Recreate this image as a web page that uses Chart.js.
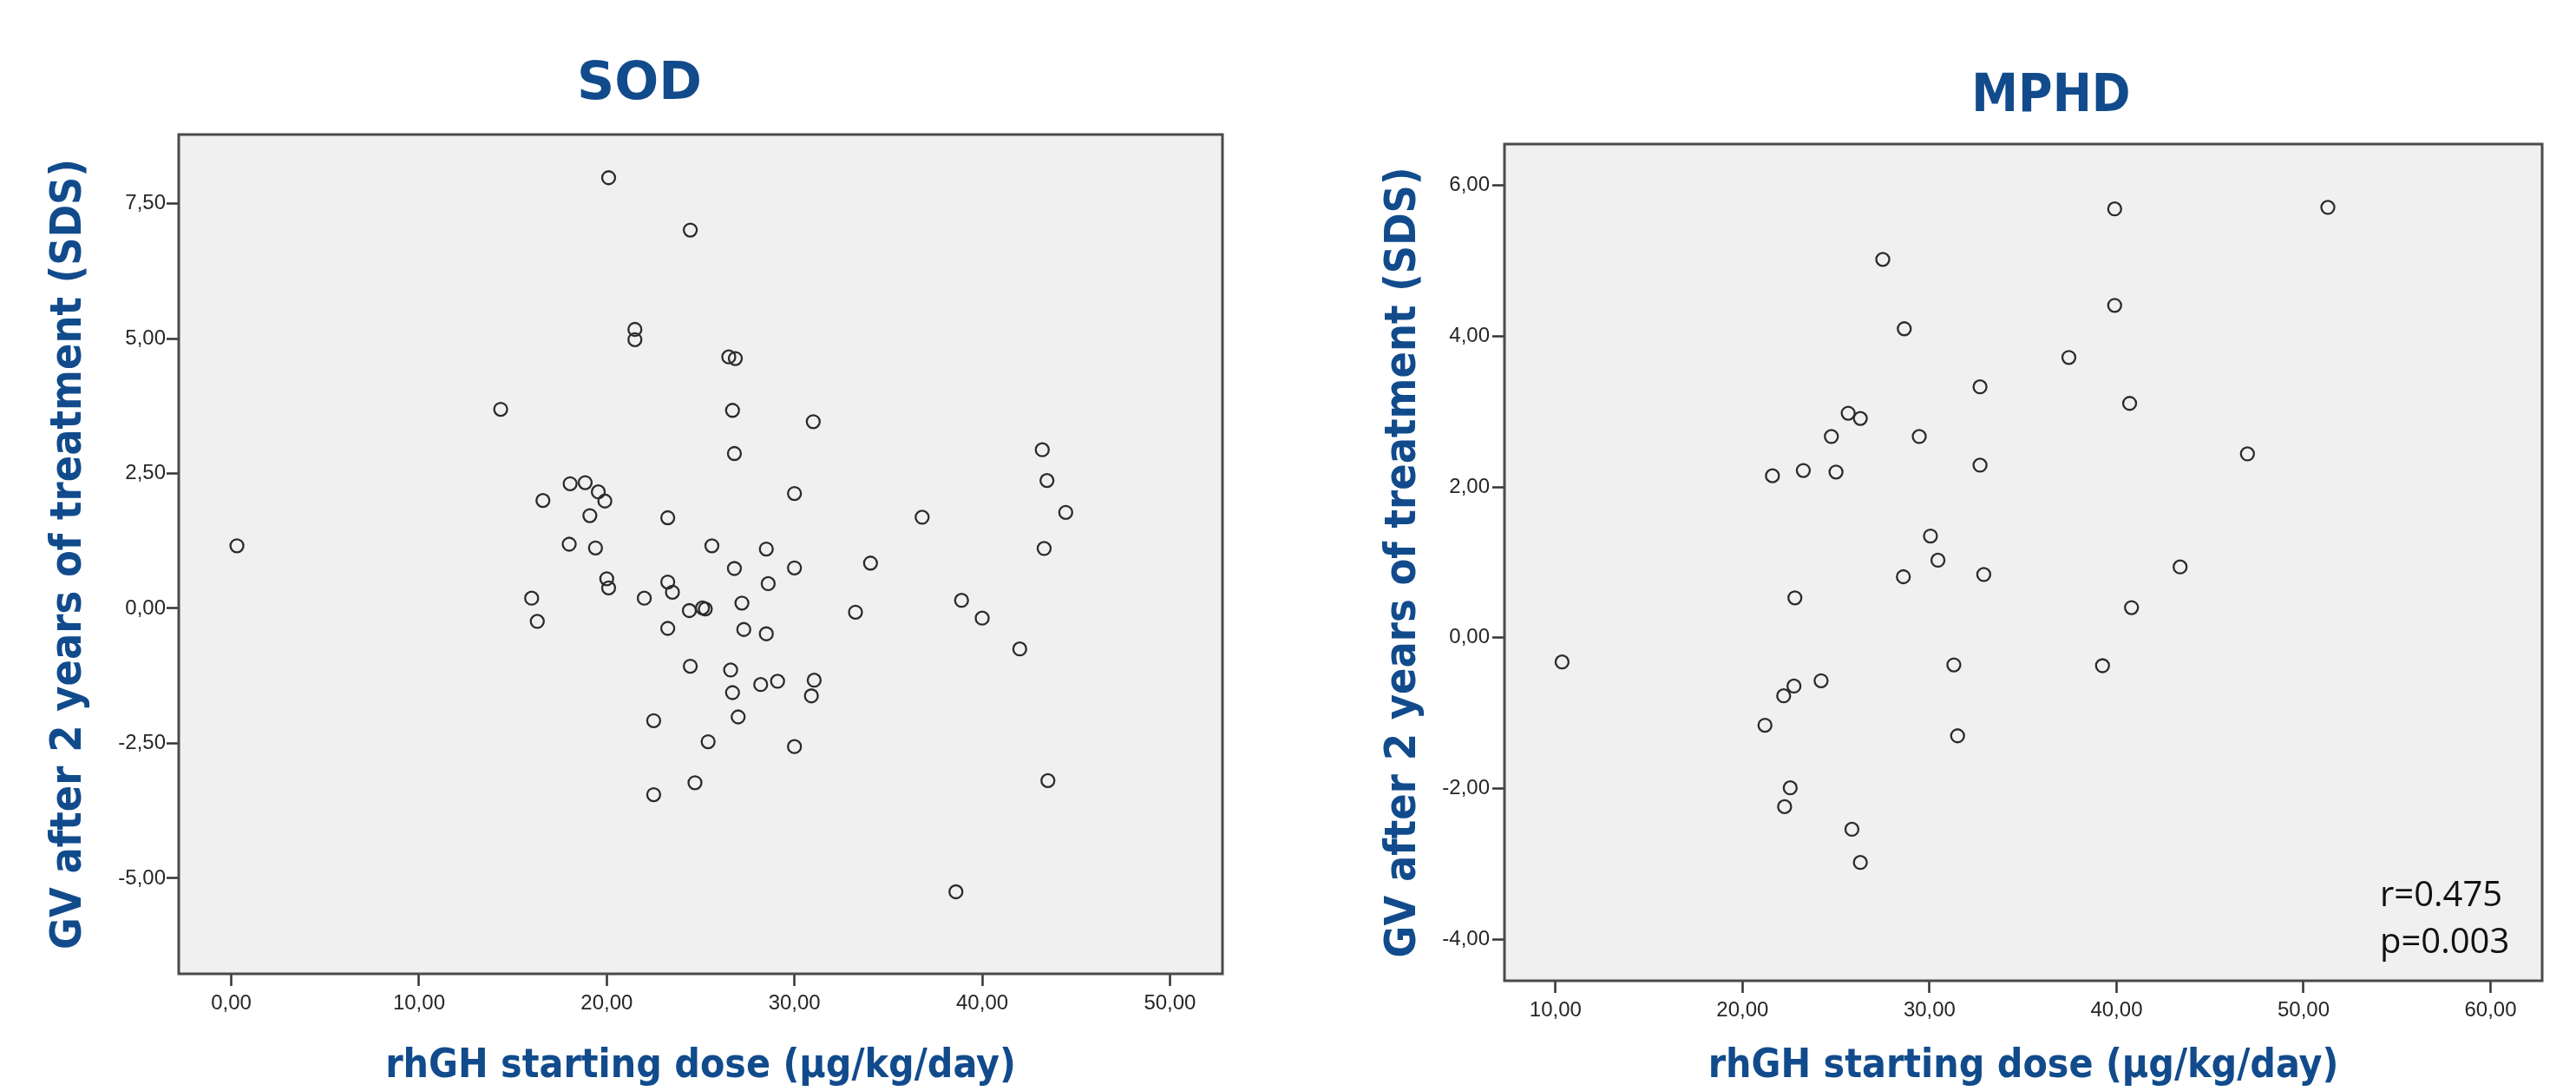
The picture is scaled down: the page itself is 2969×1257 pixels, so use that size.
<!DOCTYPE html>
<html>
<head>
<meta charset="utf-8">
<script src="https://cdn.jsdelivr.net/npm/chart.js@4.4.1/dist/chart.umd.min.js"></script>
<style>
  html, body { margin: 0; padding: 0; background: #fff; }
  body { width: 2969px; height: 1257px; position: relative; overflow: hidden; }
  canvas { position: absolute; top: 0; }
  #sodChart { left: 0; }
  #mphdChart { left: 1480px; }
</style>
</head>
<body>
<canvas id="sodChart" width="1440" height="1257"></canvas>
<canvas id="mphdChart" width="1489" height="1257"></canvas>
<script>
// SOD panel
const sodDose = [20.1, 24.45, 21.5, 21.5, 26.5, 26.85, 14.35, 26.7, 31.0, 26.8,
  18.05, 18.85, 19.55, 19.9, 16.6, 30.0, 19.1, 23.25, 18.0, 19.4,
  25.6, 28.5, 26.8, 30.0, 28.6, 20.0, 20.1, 23.25, 23.5, 16.0,
  22.0, 27.2, 24.4, 25.1, 25.25, 33.25, 16.3, 23.25, 27.3, 28.5,
  24.45, 26.6, 28.2, 29.1, 31.05, 30.9, 26.7, 27.0, 22.5, 25.4,
  30.0, 24.7, 22.5, 43.2, 43.45, 44.45, 43.3, 36.8, 34.05, 38.9,
  40.0, 42.0, 43.5, 38.6, 0.3];
const sodGV = [7.98, 7.01, 5.17, 4.98, 4.66, 4.63, 3.69, 3.67, 3.46, 2.87,
  2.31, 2.33, 2.16, 1.99, 2.0, 2.13, 1.72, 1.68, 1.19, 1.12,
  1.16, 1.10, 0.74, 0.75, 0.46, 0.55, 0.38, 0.49, 0.30, 0.19,
  0.19, 0.10, -0.04, 0.01, -0.01, -0.07, -0.24, -0.37, -0.39, -0.47,
  -1.07, -1.14, -1.41, -1.35, -1.33, -1.62, -1.56, -2.01, -2.08, -2.47,
  -2.56, -3.23, -3.45, 2.94, 2.37, 1.78, 1.11, 1.69, 0.84, 0.15,
  -0.18, -0.75, -3.19, -5.25, 1.16];

// MPHD panel
const mphdDose = [39.9, 51.3, 27.5, 39.9, 28.65, 37.45, 32.7, 40.7, 25.65, 26.3,
  24.75, 29.45, 47.0, 32.7, 21.6, 23.25, 25.0, 30.05, 30.45, 28.6,
  32.9, 43.4, 22.8, 40.8, 10.35, 31.3, 39.25, 24.2, 22.75, 22.2,
  21.2, 31.5, 22.55, 22.25, 25.85, 26.3];
const mphdGV = [5.69, 5.71, 5.02, 4.41, 4.10, 3.72, 3.33, 3.11, 2.98, 2.91,
  2.67, 2.67, 2.44, 2.29, 2.15, 2.22, 2.20, 1.35, 1.03, 0.81,
  0.84, 0.94, 0.53, 0.40, -0.32, -0.36, -0.37, -0.57, -0.64, -0.77,
  -1.16, -1.30, -1.99, -2.24, -2.54, -2.98];

const sodXTicks = [0, 10, 20, 30, 40, 50];
const sodYTicks = [-5, -2.5, 0, 2.5, 5, 7.5];
const mphdXTicks = [10, 20, 30, 40, 50, 60];
const mphdYTicks = [-4, -2, 0, 2, 4, 6];

const xAxisTitle = 'rhGH starting dose (µg/kg/day)';
const yAxisTitle = 'GV after 2 years of treatment (SDS)';
const mphdStats = ['r=0.475', 'p=0.003'];

const blue = '#114b8c';
const titleFamily = "'DejaVu Sans Condensed', 'DejaVu Sans', sans-serif";
const tickFont = { family: "'Liberation Sans', Arial, sans-serif", size: 24 };
const yTitleSize = 50;

const fmt = (v) => v.toFixed(2).replace('.', ',');

const panelDecor = {
  id: 'panelDecor',
  beforeDraw(chart) {
    const { ctx, chartArea: a } = chart;
    ctx.save();
    ctx.fillStyle = '#f0f0f0';
    ctx.fillRect(a.left, a.top, a.right - a.left, a.bottom - a.top);
    ctx.restore();
  },
  afterDraw(chart, args, opts) {
    const { ctx, chartArea: a } = chart;
    ctx.save();
    ctx.strokeStyle = '#4a4a4a';
    ctx.lineWidth = 3;
    ctx.strokeRect(a.left, a.top, a.right - a.left, a.bottom - a.top);

    ctx.fillStyle = blue;
    ctx.font = opts.titleFont;
    ctx.textAlign = 'center';
    ctx.textBaseline = 'alphabetic';
    ctx.fillText(opts.title, opts.titleX, opts.titleBaseline);

    if (opts.notes) {
      ctx.fillStyle = '#111';
      ctx.font = "40px 'Open Sans', sans-serif";
      ctx.textAlign = 'left';
      opts.notes.forEach((t, i) => {
        ctx.fillText(t, a.right - 187, a.bottom - 86 + i * 54);
      });
    }
    ctx.restore();
  }
};

function makeScales(xRange, yRange, xTicks, yTicks, yAxisWidth, xAxisHeight, yTitleCenter, yLabelPad) {
  const grid = { display: true, drawOnChartArea: false, drawTicks: true, tickLength: 14, tickWidth: 2.5, tickColor: '#333' };
  return {
    x: {
      type: 'linear',
      min: xRange[0],
      max: xRange[1],
      afterBuildTicks: (s) => { s.ticks = xTicks.map((v) => ({ value: v })); },
      afterFit: (s) => { s.height = xAxisHeight; },
      grid,
      border: { display: false },
      ticks: { font: tickFont, color: '#262626', padding: 6, maxRotation: 0, autoSkip: false, callback: (v) => fmt(v) },
      title: {
        display: true,
        text: xAxisTitle,
        color: blue,
        font: { family: titleFamily, size: 46, weight: 'bold' },
        padding: { top: 0, bottom: 0 }
      }
    },
    y: {
      type: 'linear',
      min: yRange[0],
      max: yRange[1],
      afterBuildTicks: (s) => { s.ticks = yTicks.map((v) => ({ value: v })); },
      afterFit: (s) => { s.width = yAxisWidth; },
      grid,
      border: { display: false },
      ticks: { font: tickFont, color: '#262626', padding: yLabelPad, autoSkip: false, callback: (v) => fmt(v) },
      title: {
        display: true,
        text: yAxisTitle,
        color: blue,
        font: { family: titleFamily, size: yTitleSize, weight: 'bold' },
        padding: { top: yTitleCenter - yTitleSize * 0.6, bottom: 0 }
      }
    }
  };
}

const pointStyle = {
  pointStyle: 'circle',
  pointRadius: 7.5,
  pointBorderWidth: 2.3,
  borderColor: '#2b2b2b',
  backgroundColor: 'rgba(0,0,0,0)',
  showLine: false
};

new Chart(document.getElementById('sodChart'), {
  type: 'scatter',
  data: {
    datasets: [{ label: 'SOD', data: sodDose.map((x, i) => ({ x, y: sodGV[i] })), ...pointStyle }]
  },
  options: {
    responsive: false,
    animation: false,
    layout: { padding: { top: 155, right: 31, bottom: 0, left: 0 } },
    scales: makeScales([-2.8, 52.8], [-6.77, 8.78], sodXTicks, sodYTicks, 206, 135, 80, 1),
    plugins: {
      legend: { display: false },
      tooltip: { enabled: false },
      panelDecor: { title: 'SOD', titleX: 737, titleBaseline: 114, titleFont: "bold 60px 'DejaVu Sans', sans-serif" }
    }
  },
  plugins: [panelDecor]
});

new Chart(document.getElementById('mphdChart'), {
  type: 'scatter',
  data: {
    datasets: [{ label: 'MPHD', data: mphdDose.map((x, i) => ({ x, y: mphdGV[i] })), ...pointStyle }]
  },
  options: {
    responsive: false,
    animation: false,
    layout: { padding: { top: 166, right: 39, bottom: 0, left: 0 } },
    scales: makeScales([7.27, 62.76], [-4.55, 6.55], mphdXTicks, mphdYTicks, 254, 127, 138, 3),
    plugins: {
      legend: { display: false },
      tooltip: { enabled: false },
      panelDecor: {
        title: 'MPHD',
        titleX: 884,
        titleBaseline: 128,
        titleFont: "bold 60px " + titleFamily,
        notes: mphdStats
      }
    }
  },
  plugins: [panelDecor]
});
</script>
</body>
</html>
